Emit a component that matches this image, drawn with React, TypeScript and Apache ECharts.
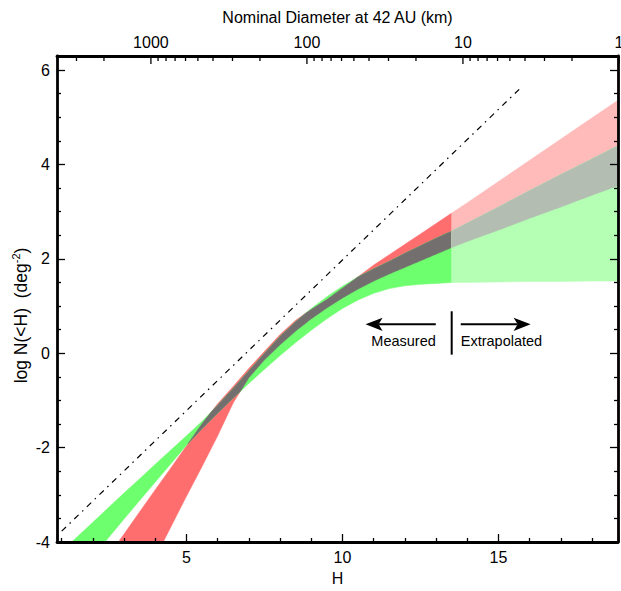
import React, { useEffect, useRef } from "react";
import * as echarts from "echarts";

const FONT = '"Liberation Sans", Arial, Helvetica, sans-serif';

// Axis ranges
const X_MIN = 0.85;
const X_MAX = 18.83;
const Y_MIN = -4;
const Y_MAX = 6.3;

const X_TICK_LABELS = [5, 10, 15];
const Y_TICK_LABELS = [-4, -2, 0, 2, 4, 6];
const Y_TITLE = "log N(<H)  (deg{sup|-2})";

// Top axis: nominal diameter (km); H = H_AT_1KM - 5 log10(D)
const H_AT_1KM = 18.86;
const DIAMETER_MAJOR = [1000, 100, 10, 1];
const DIAMETER_MINOR = [3000, 2000, 900, 800, 700, 600, 500, 400, 300, 200, 90, 80, 70, 60, 50, 40, 30, 20, 9, 8, 7, 6, 5, 4, 3, 2];

// Measured region bands (log N at each H)
const H_MEASURED = [0.85, 1.5, 2, 2.5, 3, 3.5, 4, 4.5, 5, 5.5, 6, 6.5, 7, 7.5, 8, 8.5, 9, 9.5, 10, 10.5, 11, 11.5, 12, 12.5, 13, 13.5];
const RED_UPPER_MEASURED = [-5.8, -5.2, -4.75, -4.29, -3.83, -3.36, -2.89, -2.43, -1.96, -1.49, -1.07, -0.7, -0.32, 0.04, 0.4, 0.7, 0.93, 1.14, 1.38, 1.62, 1.87, 2.09, 2.31, 2.53, 2.75, 2.97];
const RED_LOWER_MEASURED = [-8.2, -7.4, -6.8, -6.2, -5.6, -4.98, -4.33, -3.68, -3.03, -2.4, -1.75, -1.05, -0.52, -0.14, 0.18, 0.47, 0.73, 0.96, 1.17, 1.36, 1.53, 1.68, 1.82, 1.96, 2.1, 2.24];
const GREEN_UPPER_MEASURED = [-4.29, -3.89, -3.58, -3.27, -2.96, -2.66, -2.35, -2.05, -1.75, -1.44, -1.1, -0.74, -0.37, 0.0, 0.36, 0.67, 0.95, 1.2, 1.42, 1.62, 1.79, 1.95, 2.12, 2.28, 2.44, 2.59];
const GREEN_LOWER_MEASURED = [-5.3, -4.8, -4.32, -3.91, -3.51, -3.12, -2.73, -2.34, -1.95, -1.6, -1.27, -0.95, -0.64, -0.34, -0.05, 0.23, 0.49, 0.73, 0.95, 1.13, 1.27, 1.37, 1.43, 1.46, 1.48, 1.5];

// Extrapolated region bands
const H_EXTRAP = [13.5, 14, 15, 16, 17, 18, 19];
const RED_UPPER_EXTRAP = [2.97, 3.19, 3.64, 4.09, 4.54, 4.99, 5.44];
const RED_LOWER_EXTRAP = [2.24, 2.37, 2.61, 2.86, 3.1, 3.35, 3.59];
const GREEN_UPPER_EXTRAP = [2.59, 2.76, 3.1, 3.45, 3.79, 4.12, 4.46];
const GREEN_LOWER_EXTRAP = [1.5, 1.5, 1.51, 1.52, 1.52, 1.53, 1.53];

// Reference dash-dot line endpoints
const DASH_LINE = [
  [1.0, -3.77],
  [15.72, 5.63],
];

// Annotation anchors (data coordinates)
const BOUNDARY_H = 13.5;
const BOUNDARY_Y = [-0.03, 0.89];
const ARROW_Y = 0.613;
const MEASURED_ARROW = [12.99, 10.74];
const EXTRAP_ARROW = [13.79, 16.03];
const LABEL_Y = 0.25;

const RED = "#ff6e6e";
const GREEN = "#6eff6e";
const GRAY = "#746f6f";
const RED_X = "#ffbaba";
const GREEN_X = "#b4ffb4";
const GRAY_X = "#b3bdb2";

type Pt = [number, number];

function bandPolygon(H: number[], U: number[], L: number[]): Pt[] {
  const up: Pt[] = H.map((h, i) => [h, U[i]]);
  const down: Pt[] = H.map((h, i) => [h, L[i]] as Pt).reverse();
  return up.concat(down);
}

function overlapPolygons(H: number[], aU: number[], aL: number[], bU: number[], bL: number[], steps = 24): Pt[][] {
  const s: { h: number; hi: number; lo: number }[] = [];
  const at = (i: number, t: number) => {
    const f = (arr: number[]) => arr[i] + (arr[i + 1] - arr[i]) * t;
    const h = H[i] + (H[i + 1] - H[i]) * t;
    return { h, hi: Math.min(f(aU), f(bU)), lo: Math.max(f(aL), f(bL)) };
  };
  for (let i = 0; i < H.length - 1; i++) {
    for (let k = 0; k < steps; k++) s.push(at(i, k / steps));
  }
  s.push(at(H.length - 2, 1));
  const pieces: Pt[][] = [];
  let up: Pt[] | null = null;
  let down: Pt[] = [];
  for (let j = 0; j < s.length; j++) {
    const d = s[j].hi - s[j].lo;
    if (d > 0) {
      if (!up) {
        up = [];
        down = [];
        if (j > 0) {
          const p = s[j - 1];
          const dp = p.hi - p.lo;
          const t = dp / (dp - d);
          up.push([p.h + (s[j].h - p.h) * t, p.hi + (s[j].hi - p.hi) * t]);
        }
      }
      up.push([s[j].h, s[j].hi]);
      down.push([s[j].h, s[j].lo]);
    } else if (up) {
      const p = s[j - 1];
      const dp = p.hi - p.lo;
      const t = dp / (dp - d);
      up.push([p.h + (s[j].h - p.h) * t, p.hi + (s[j].hi - p.hi) * t]);
      pieces.push(up.concat(down.reverse()));
      up = null;
    }
  }
  if (up) pieces.push(up.concat(down.reverse()));
  return pieces;
}

function buildShapes() {
  const shapes: { points: Pt[]; fill: string }[] = [];
  shapes.push({ points: bandPolygon(H_MEASURED, RED_UPPER_MEASURED, RED_LOWER_MEASURED), fill: RED });
  shapes.push({ points: bandPolygon(H_MEASURED, GREEN_UPPER_MEASURED, GREEN_LOWER_MEASURED), fill: GREEN });
  overlapPolygons(H_MEASURED, RED_UPPER_MEASURED, RED_LOWER_MEASURED, GREEN_UPPER_MEASURED, GREEN_LOWER_MEASURED).forEach((p) =>
    shapes.push({ points: p, fill: GRAY })
  );
  shapes.push({ points: bandPolygon(H_EXTRAP, RED_UPPER_EXTRAP, RED_LOWER_EXTRAP), fill: RED_X });
  shapes.push({ points: bandPolygon(H_EXTRAP, GREEN_UPPER_EXTRAP, GREEN_LOWER_EXTRAP), fill: GREEN_X });
  overlapPolygons(H_EXTRAP, RED_UPPER_EXTRAP, RED_LOWER_EXTRAP, GREEN_UPPER_EXTRAP, GREEN_LOWER_EXTRAP).forEach((p) =>
    shapes.push({ points: p, fill: GRAY_X })
  );
  return shapes;
}

const TOP_TICKS = DIAMETER_MAJOR.map((d) => ({ d, major: true })).concat(DIAMETER_MINOR.map((d) => ({ d, major: false })));

function arrowHead(xt: number, y: number, dir: number) {
  const L = 17, W = 6.7, N = 13;
  return [
    [xt, y],
    [xt - dir * L, y - W],
    [xt - dir * N, y],
    [xt - dir * L, y + W],
  ];
}

export default function App() {
  const ref = useRef<HTMLDivElement>(null);
  useEffect(() => {
    if (!ref.current) return;
    const chart = echarts.init(ref.current, undefined, { renderer: "svg" });
    const shapes = buildShapes();
    const axisLine = { show: true, onZero: false, lineStyle: { color: "#000", width: 2.8 } };
    const axisTick = { show: true, inside: true, length: 8, lineStyle: { color: "#000", width: 1.3 } };
    const labelStyle = { color: "#000", fontSize: 16, fontFamily: FONT };

    chart.setOption({
      animation: false,
      textStyle: { fontFamily: FONT },
      grid: { left: 57, top: 56, width: 566, height: 489, containLabel: false },
      graphic: [
        {
          type: "text",
          x: 21,
          y: 315.5,
          rotation: Math.PI / 2,
          silent: true,
          style: {
            text: Y_TITLE,
            fill: "#000",
            fontSize: 17.5,
            fontFamily: FONT,
            align: "center",
            verticalAlign: "middle",
            lineHeight: 22,
            rich: { sup: { fontSize: 11, lineHeight: 11, verticalAlign: "top", fill: "#000", fontFamily: FONT } },
          },
        },
      ],
      xAxis: [
        {
          type: "value",
          min: X_MIN,
          max: X_MAX,
          splitNumber: 4,
          position: "bottom",
          z: 5,
          axisLine,
          axisTick,
          minorTick: { show: true, splitNumber: 5, length: 4, lineStyle: { color: "#000", width: 1.3 } },
          splitLine: { show: false },
          axisLabel: {
            ...labelStyle,
            margin: 7,
            formatter: (v: number) => (X_TICK_LABELS.some((t) => Math.abs(t - v) < 1e-6) ? String(v) : ""),
          },
          name: "H",
          nameLocation: "middle",
          nameGap: 28,
          nameTextStyle: { ...labelStyle },
        },
        {
          type: "value",
          min: X_MIN,
          max: X_MAX,
          position: "top",
          z: 5,
          axisLine,
          axisTick: { show: false },
          axisLabel: { show: false },
          splitLine: { show: false },
          name: "Nominal Diameter at 42 AU (km)",
          nameLocation: "middle",
          nameGap: 31,
          nameTextStyle: { ...labelStyle },
        },
      ],
      yAxis: [
        {
          type: "value",
          min: Y_MIN,
          max: Y_MAX,
          interval: 2,
          position: "left",
          z: 5,
          axisLine,
          axisTick,
          minorTick: { show: true, splitNumber: 4, length: 4, lineStyle: { color: "#000", width: 1.3 } },
          splitLine: { show: false },
          axisLabel: {
            ...labelStyle,
            margin: 7,
            formatter: (v: number) => (Y_TICK_LABELS.some((t) => Math.abs(t - v) < 1e-6) ? String(v) : ""),
          },
        },
        {
          type: "value",
          min: Y_MIN,
          max: Y_MAX,
          interval: 2,
          position: "right",
          z: 5,
          axisLine,
          axisTick,
          minorTick: { show: true, splitNumber: 4, length: 4, lineStyle: { color: "#000", width: 1.3 } },
          splitLine: { show: false },
          axisLabel: { show: false },
        },
      ],
      series: [
        {
          type: "custom",
          name: "bands",
          xAxisIndex: 0,
          yAxisIndex: 0,
          clip: true,
          silent: true,
          data: shapes.map((_, i) => i),
          renderItem: (params: any, api: any) => {
            const s = shapes[params.dataIndex];
            return {
              type: "polygon",
              shape: { points: s.points.map((p) => api.coord(p)) },
              style: { fill: s.fill, stroke: s.fill, lineWidth: 0.5 },
            };
          },
        },
        {
          type: "line",
          name: "reference",
          xAxisIndex: 0,
          yAxisIndex: 0,
          data: DASH_LINE,
          symbol: "none",
          silent: true,
          lineStyle: { color: "#000", width: 1.2, type: [6, 5, 1.5, 5] },
        },
        {
          type: "custom",
          name: "annotations",
          xAxisIndex: 0,
          yAxisIndex: 0,
          clip: false,
          silent: true,
          data: [0],
          renderItem: (params: any, api: any) => {
            const [bx, by0] = api.coord([BOUNDARY_H, BOUNDARY_Y[0]]);
            const by1 = api.coord([BOUNDARY_H, BOUNDARY_Y[1]])[1];
            const [m0, ay] = api.coord([MEASURED_ARROW[0], ARROW_Y]);
            const m1 = api.coord([MEASURED_ARROW[1], ARROW_Y])[0];
            const e0 = api.coord([EXTRAP_ARROW[0], ARROW_Y])[0];
            const e1 = api.coord([EXTRAP_ARROW[1], ARROW_Y])[0];
            const ly = api.coord([MEASURED_ARROW[0], LABEL_Y])[1];
            const txt = { fill: "#000", fontSize: 14.5, fontFamily: FONT, verticalAlign: "middle" };
            return {
              type: "group",
              children: [
                { type: "line", shape: { x1: bx, y1: by0, x2: bx, y2: by1 }, style: { stroke: "#000", lineWidth: 2 } },
                { type: "line", shape: { x1: m0, y1: ay, x2: m1 + 13, y2: ay }, style: { stroke: "#000", lineWidth: 2 } },
                { type: "polygon", shape: { points: arrowHead(m1, ay, -1) }, style: { fill: "#000" } },
                { type: "line", shape: { x1: e0, y1: ay, x2: e1 - 13, y2: ay }, style: { stroke: "#000", lineWidth: 2 } },
                { type: "polygon", shape: { points: arrowHead(e1, ay, 1) }, style: { fill: "#000" } },
                { type: "text", x: m0, y: ly, style: { ...txt, text: "Measured", align: "right" } },
                { type: "text", x: e0, y: ly, style: { ...txt, text: "Extrapolated", align: "left" } },
              ],
            };
          },
        },
        {
          type: "custom",
          name: "diameter axis",
          xAxisIndex: 0,
          yAxisIndex: 0,
          clip: false,
          silent: true,
          z: 6,
          data: TOP_TICKS.map((_, i) => i),
          renderItem: (params: any, api: any) => {
            const t = TOP_TICKS[params.dataIndex];
            const h = H_AT_1KM - 5 * Math.log10(t.d);
            const [x, y] = api.coord([h, Y_MAX]);
            const len = t.major ? 8 : 5;
            const children: any[] = [
              { type: "line", shape: { x1: x, y1: y, x2: x, y2: y + len }, style: { stroke: "#000", lineWidth: 1.3 } },
            ];
            if (t.major) {
              children.push({
                type: "text",
                x,
                y: y - 6,
                style: { text: String(t.d), fill: "#000", fontSize: 16, fontFamily: FONT, align: "center", verticalAlign: "bottom" },
              });
            }
            return { type: "group", children };
          },
        },
      ],
    });
    return () => chart.dispose();
  }, []);
  return <div ref={ref} style={{ position: "absolute", left: 0, top: 0, width: 621, height: 591, background: "#fff" }} />;
}
